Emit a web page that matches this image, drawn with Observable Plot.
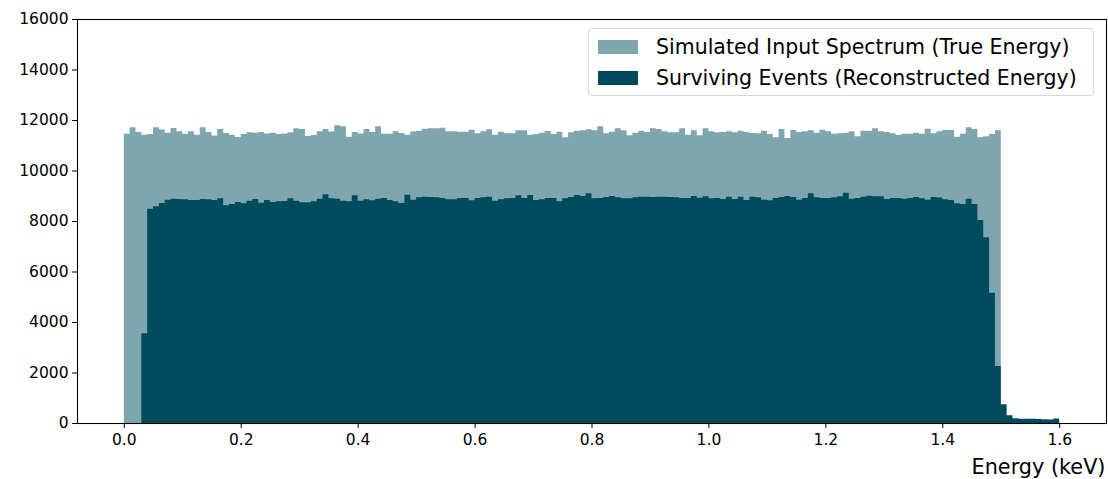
<!DOCTYPE html>
<html>
<head>
<meta charset="utf-8">
<script src="https://cdn.jsdelivr.net/npm/d3@7"></script>
<script src="https://cdn.jsdelivr.net/npm/@observablehq/plot@0.6"></script>
<style>
  body { margin: 0; background: #fff; }
  #wrap { position: relative; width: 1108px; height: 479px; font-family: "DejaVu Sans", sans-serif; }
  #wrap svg [aria-label="x-axis label"] { font-size: 20.8px; }
  .legend {
    position: absolute; left: 588px; top: 28px; width: 506px; height: 68px;
    border: 1px solid #d6d6d6; border-radius: 4px; background: rgba(255,255,255,0.8);
    box-sizing: border-box; font-size: 20.5px; color: #000;
  }
  .legend .row { position: absolute; left: 9px; display: flex; align-items: center; white-space: nowrap; height: 24px; }
  .legend .sw { width: 40px; height: 14px; margin-right: 18px; }
</style>
</head>
<body>
<div id="wrap"></div>
<script>
// Histogram bin width (keV); both spectra start at 0 keV
const binWidth = 0.01;
const seriesColor = "#004b5d";

// Simulated input spectrum, counts per bin, 0.00–1.50 keV (true energy)
const trueCounts = [
  11460, 11710, 11525, 11420, 11445, 11710, 11620, 11500, 11680, 11550,
  11460, 11550, 11420, 11710, 11525, 11390, 11640, 11485, 11420, 11330,
  11445, 11510, 11500, 11525, 11470, 11500, 11445, 11470, 11510, 11670,
  11640, 11370, 11405, 11550, 11640, 11540, 11790, 11750, 11340, 11525,
  11470, 11640, 11525, 11750, 11460, 11460, 11550, 11485, 11420, 11540,
  11577, 11657, 11670, 11670, 11696, 11551, 11551, 11538, 11538, 11617,
  11472, 11551, 11630, 11419, 11538, 11472, 11472, 11590, 11590, 11419,
  11445, 11498, 11564, 11445, 11538, 11313, 11511, 11577, 11590, 11630,
  11590, 11749, 11472, 11538, 11670, 11590, 11393, 11498, 11577, 11525,
  11670, 11643, 11551, 11511, 11511, 11670, 11419, 11590, 11393, 11670,
  11551, 11511, 11525, 11551, 11511, 11577, 11525, 11485, 11472, 11577,
  11445, 11313, 11643, 11287, 11604, 11525, 11551, 11590, 11498, 11617,
  11551, 11459, 11472, 11498, 11551, 11353, 11577, 11577, 11670, 11551,
  11525, 11472, 11406, 11459, 11459, 11498, 11459, 11657, 11472, 11551,
  11604, 11604, 11340, 11459, 11709, 11643, 11313, 11353, 11445, 11590
];

// Surviving events, counts per bin, 0.00–1.60 keV (reconstructed energy)
const recoCounts = [
  0, 0, 0, 3550, 8490, 8580, 8713, 8845, 8885, 8870,
  8858, 8832, 8832, 8870, 8858, 8832, 8898, 8620, 8673, 8752,
  8700, 8805, 8870, 8726, 8832, 8752, 8780, 8792, 8898, 8805,
  8740, 8740, 8780, 8885, 9056, 8898, 8885, 8805, 8780, 9017,
  8805, 8858, 8818, 8885, 8911, 8832, 8780, 8713, 9043, 8845,
  8937, 8964, 8951, 8937, 8911, 8858, 8858, 8911, 8911, 8818,
  8911, 8937, 8964, 8805, 8858, 8898, 8911, 9017, 8911, 9030,
  8832, 8858, 8911, 8911, 8780, 8898, 8951, 9030, 8990, 9096,
  8898, 8911, 8951, 8990, 8937, 8898, 8898, 8937, 8964, 8964,
  8951, 8964, 8964, 8951, 8937, 8911, 8911, 8990, 8924, 8977,
  8898, 8911, 8871, 8964, 8871, 8964, 8832, 8964, 8937, 8845,
  8818, 8911, 8951, 8990, 8951, 8845, 8911, 9096, 8937, 8911,
  8911, 8937, 8977, 9122, 8885, 8911, 8964, 9003, 8977, 8977,
  8871, 8911, 8911, 8885, 8911, 8951, 8898, 8845, 8951, 8930,
  8858, 8832, 8700, 8674, 8885, 8674, 8040, 7354, 5162, 2258,
  740, 305, 186, 170, 165, 170, 160, 150, 140, 175
];

const xTicks = [0.0, 0.2, 0.4, 0.6, 0.8, 1.0, 1.2, 1.4, 1.6];
const yTicks = [0, 2000, 4000, 6000, 8000, 10000, 12000, 14000, 16000];

const legendLabels = [
  "Simulated Input Spectrum (True Energy)",
  "Surviving Events (Reconstructed Energy)"
];

// Turn per-bin counts into step points (left edge of each bin + closing right edge)
function steps(counts) {
  const pts = counts.map((c, i) => ({x: i * binWidth, y: c}));
  pts.push({x: counts.length * binWidth, y: counts[counts.length - 1]});
  return pts;
}

const chart = Plot.plot({
  width: 1108,
  height: 479,
  marginLeft: 77,
  marginRight: 2,
  marginTop: 19,
  marginBottom: 56,
  style: {fontFamily: "DejaVu Sans, sans-serif", fontSize: "15.5px", color: "#000", background: "#fff"},
  x: {domain: [-0.08, 1.68]},
  y: {domain: [0, 16000]},
  marks: [
    Plot.areaY(steps(trueCounts), {x: "x", y: "y", curve: "step-after", fill: seriesColor, fillOpacity: 0.5}),
    Plot.areaY(steps(recoCounts), {x: "x", y: "y", curve: "step-after", fill: seriesColor}),
    Plot.frame({stroke: "#000", strokeWidth: 1.1}),
    Plot.axisY({ticks: yTicks, tickFormat: d3.format("d"), tickSize: 5, tickPadding: 4, label: null}),
    Plot.axisX({ticks: xTicks, tickFormat: d3.format(".1f"), tickSize: 5, tickPadding: 5,
      label: "Energy (keV)", labelAnchor: "right", labelArrow: "none", labelOffset: 50})
  ]
});

const wrap = document.getElementById("wrap");
wrap.appendChild(chart);

// Legend box in the upper right of the axes
const legend = document.createElement("div");
legend.className = "legend";
legendLabels.forEach((label, i) => {
  const row = document.createElement("div");
  row.className = "row";
  row.style.top = (i === 0 ? 6 : 37) + "px";
  const sw = document.createElement("div");
  sw.className = "sw";
  sw.style.background = seriesColor;
  sw.style.opacity = i === 0 ? 0.5 : 1;
  const t = document.createElement("span");
  t.textContent = label;
  row.appendChild(sw);
  row.appendChild(t);
  legend.appendChild(row);
});
wrap.appendChild(legend);
</script>
</body>
</html>
